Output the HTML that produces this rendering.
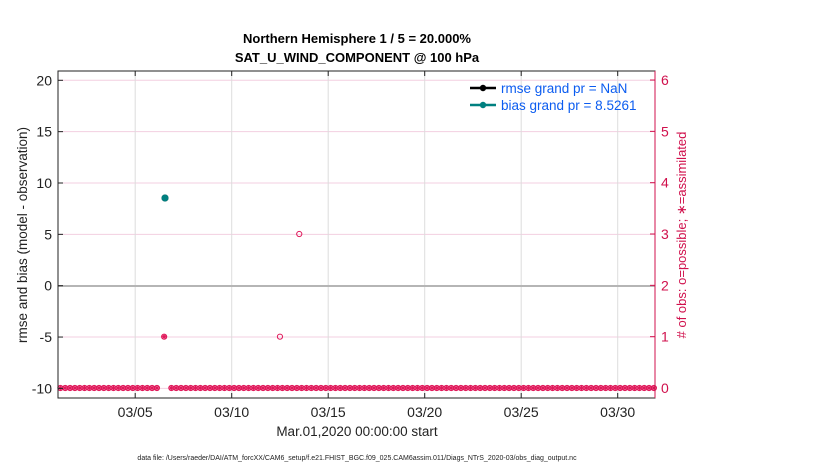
<!DOCTYPE html>
<html><head><style>body{margin:0;background:#fff}svg{font-family:"Liberation Sans",Arial,sans-serif}</style></head>
<body>
<svg id="s" width="830" height="470" xmlns="http://www.w3.org/2000/svg">
<rect width="830" height="470" fill="#fff"/>
<text x="357" y="43" font-size="13" font-weight="bold" text-anchor="middle">Northern Hemisphere 1 / 5 = 20.000%</text>
<text x="357" y="62" font-size="13" font-weight="bold" text-anchor="middle">SAT_U_WIND_COMPONENT @ 100 hPa</text>
<g id="grid"></g>
<line x1="58" y1="286" x2="655" y2="286" stroke="#b5b5b5" stroke-width="2"/>
<g id="pts"></g>
<rect x="58" y="71" width="597" height="327" fill="none" stroke="#222" stroke-width="1"/>
<line x1="655" y1="71" x2="655" y2="398" stroke="#d0104c" stroke-width="1"/>
<g id="ax"></g>
<circle cx="165" cy="198" r="3.5" fill="#000"/>
<circle cx="165" cy="198" r="3.5" fill="#008080"/>
<line x1="470" y1="88" x2="496" y2="88" stroke="#000" stroke-width="2.5"/><circle cx="483" cy="88" r="3.2" fill="#000"/>
<line x1="470" y1="105" x2="496" y2="105" stroke="#008080" stroke-width="2.5"/><circle cx="483" cy="105" r="3.2" fill="#008080"/>
<text x="501" y="93" font-size="13.5" fill="#0b5cf0">rmse grand pr = NaN</text>
<text x="501" y="110" font-size="13.5" fill="#0b5cf0">bias grand pr = 8.5261</text>
<text x="357" y="436" font-size="13.5" text-anchor="middle" fill="#222">Mar.01,2020 00:00:00 start</text>
<text x="357" y="460" font-size="7" text-anchor="middle" fill="#222">data file: /Users/raeder/DAI/ATM_forcXX/CAM6_setup/f.e21.FHIST_BGC.f09_025.CAM6assim.011/Diags_NTrS_2020-03/obs_diag_output.nc</text>
<text transform="translate(27,235) rotate(-90)" font-size="13.5" text-anchor="middle" fill="#222">rmse and bias (model - observation)</text>
<text transform="translate(686,235) rotate(-90)" font-size="13" text-anchor="middle" fill="#d0104c"># of obs: o=possible; ∗=assimilated</text>
</svg>
<script>
const NS="http://www.w3.org/2000/svg";
function el(p,t,a,txt){const e=document.createElementNS(NS,t);for(const k in a)e.setAttribute(k,a[k]);if(txt!==undefined)e.textContent=txt;document.getElementById(p).appendChild(e);return e;}
const px=d=>58+d*19.3, yl=v=>285.7-v*10.27, yr=c=>388-c*51.33;
for(let v=-10;v<=20;v+=5){ if(v!==0) el("grid","line",{x1:58,x2:655,y1:yl(v),y2:yl(v),stroke:"#f3cfe0","stroke-width":1});
 el("ax","line",{x1:58,x2:63,y1:yl(v),y2:yl(v),stroke:"#222"});
 el("ax","text",{x:52,y:yl(v)+5,"font-size":14,"text-anchor":"end",fill:"#222"},v);}
for(let c=0;c<=6;c++){el("ax","line",{x1:650,x2:655,y1:yr(c),y2:yr(c),stroke:"#d0104c"});
 el("ax","text",{x:661,y:yr(c)+5,"font-size":14,fill:"#d0104c"},c);}
["03/05","03/10","03/15","03/20","03/25","03/30"].forEach((t,i)=>{const x=px(4+5*i);
 el("grid","line",{x1:x,x2:x,y1:71,y2:398,stroke:"#ddd"});
 el("ax","line",{x1:x,x2:x,y1:393,y2:398,stroke:"#222"});el("ax","line",{x1:x,x2:x,y1:71,y2:76,stroke:"#222"});
 el("ax","text",{x:x,y:417,"font-size":14,"text-anchor":"middle",fill:"#222"},t);});
const C="#e0185a";
function mark(x,y,star){el("pts","circle",{cx:x,cy:y,r:2.6,fill:"none",stroke:C,"stroke-width":1});
 if(star){el("pts","path",{d:`M${x-2.6} ${y}H${x+2.6}M${x} ${y-2.6}V${y+2.6}M${x-1.9} ${y-1.9}L${x+1.9} ${y+1.9}M${x-1.9} ${y+1.9}L${x+1.9} ${y-1.9}`,stroke:C,"stroke-width":1});}}
for(let d=0.125;d<31;d+=0.25){const x=px(d); if(x>161&&x<167)continue; mark(x,388,true);}
mark(px(5.5),yr(1),true); mark(px(11.5),yr(1),false); mark(px(12.5),yr(3),false);
</script>
</body></html>
